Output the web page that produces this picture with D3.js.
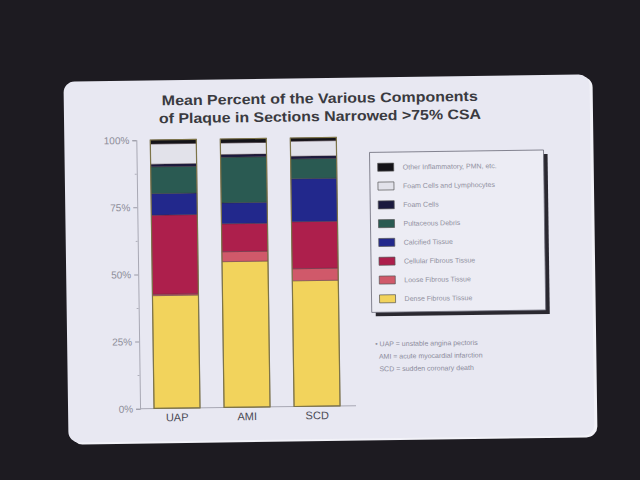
<!DOCTYPE html>
<html>
<head>
<meta charset="utf-8">
<script src="https://cdn.jsdelivr.net/npm/d3@7"></script>
<style>
html,body{margin:0;padding:0;background:#1d1b21;}
svg{display:block;}
</style>
</head>
<body>
<svg id="c" width="640" height="480"></svg>
<script>
// ---- data (percent of plaque, bottom to top of each bar) ----
const categories = ["UAP", "AMI", "SCD"];
const denseFibrous    = [42.0, 54.3, 46.8];
const looseFibrous    = [0.5, 3.7, 4.5];
const cellularFibrous = [29.5, 10.4, 17.5];
const calcified       = [8.0, 7.8, 16.0];
const pultaceous      = [10.0, 17.0, 7.4];
const foamCells       = [1.0, 1.0, 1.0];
const foamLymph       = [7.5, 4.3, 5.6];
const otherInflam     = [1.5, 1.5, 1.2];
const tickValues = [0, 25, 50, 75, 100];
const tickLabels = ["0%", "25%", "50%", "75%", "100%"];
const seriesNames = ["Dense Fibrous Tissue", "Loose Fibrous Tissue", "Cellular Fibrous Tissue",
  "Calcified Tissue", "Pultaceous Debris", "Foam Cells", "Foam Cells and Lymphocytes",
  "Other Inflammatory, PMN, etc."];
const seriesValues = [denseFibrous, looseFibrous, cellularFibrous, calcified, pultaceous,
  foamCells, foamLymph, otherInflam];
const seriesColors = ["#f2d35c", "#d0596a", "#ad1f4c", "#22288c", "#2a5a52", "#1b1a3e", "#e2e2ea", "#141318"];
const footnotes = ["UAP = unstable angina pectoris", "AMI = acute myocardial infarction", "SCD = sudden coronary death"];
const titleLines = ["Mean Percent of the Various Components", "of Plaque in Sections Narrowed >75% CSA"];

const svg = d3.select("#c");
const g = svg.append("g").attr("transform", "rotate(-0.8 329 260)");

// slide
g.append("rect").attr("x", 69).attr("y", 80).attr("width", 526).attr("height", 361)
  .attr("rx", 11).attr("fill", "#f2f2f8");
g.append("rect").attr("x", 66).attr("y", 78).attr("width", 526).attr("height", 361)
  .attr("rx", 11).attr("fill", "#e8e8f2");

// title
titleLines.forEach((t, i) => {
  g.append("text").attr("x", 322).attr("y", 103 + i * 18)
    .attr("text-anchor", "middle")
    .attr("font-family", "Liberation Sans, Arial, sans-serif")
    .attr("font-weight", "bold").attr("font-size", 14)
    .attr("fill", "#3a3a40")
    .attr("textLength", i === 0 ? 316 : 322).attr("lengthAdjust", "spacingAndGlyphs")
    .text(t);
});

// scales
const x = d3.scaleBand().domain(categories).range([140, 350]).paddingInner(0.343).paddingOuter(0.171);
const y = d3.scaleLinear().domain([0, 100]).range([406, 137.5]);

// stacked data
const rows = categories.map((c, i) => {
  const o = { cat: c };
  seriesNames.forEach((s, k) => o[s] = seriesValues[k][i]);
  return o;
});
const stack = d3.stack().keys(seriesNames)(rows);

// axis
const yAxis = d3.axisLeft(y).tickValues(tickValues).tickFormat((d, i) => tickLabels[i]).tickSize(4).tickPadding(3);
const ax = g.append("g").attr("transform", "translate(138,0)").call(yAxis);
ax.select(".domain").attr("stroke", "#a8a8b4");
ax.selectAll(".tick line").attr("stroke", "#9a9aa6");
ax.selectAll(".tick text").attr("fill", "#8c8c98").attr("font-size", 10)
  .attr("font-family", "Liberation Sans, Arial, sans-serif");
const minor = d3.axisLeft(y).tickValues([12.5, 37.5, 62.5, 87.5]).tickSize(2).tickFormat("");
const mx = g.append("g").attr("transform", "translate(138,0)").call(minor);
mx.select(".domain").remove();
mx.selectAll(".tick line").attr("stroke", "#b0b0bc");
g.append("line").attr("x1", 138).attr("x2", 354).attr("y1", y(0)).attr("y2", y(0))
  .attr("stroke", "#a8a8b4");

// bars
g.selectAll("g.layer").data(stack).join("g").attr("class", "layer")
  .attr("fill", (d, k) => seriesColors[k])
  .selectAll("rect").data(d => d).join("rect")
  .attr("x", d => x(d.data.cat))
  .attr("width", x.bandwidth())
  .attr("y", d => y(d[1]))
  .attr("height", d => y(d[0]) - y(d[1]))
  .attr("stroke", "#3a2a30").attr("stroke-width", 0.6).attr("stroke-opacity", 0.6);
// bar outlines
g.selectAll("rect.outline").data(categories).join("rect").attr("class", "outline")
  .attr("x", d => x(d)).attr("width", x.bandwidth())
  .attr("y", y(100)).attr("height", y(0) - y(100))
  .attr("fill", "none").attr("stroke", "#7d7448").attr("stroke-width", 1.2);

// category labels
g.selectAll("text.cat").data(categories).join("text").attr("class", "cat")
  .attr("x", d => x(d) + x.bandwidth() / 2).attr("y", 419)
  .attr("text-anchor", "middle")
  .attr("font-family", "Liberation Sans, Arial, sans-serif").attr("font-size", 11)
  .attr("fill", "#4a4a55").text(d => d);

// legend
const lg = g.append("g").attr("transform", "translate(371,153)");
lg.append("rect").attr("x", 4).attr("y", 4).attr("width", 174).attr("height", 160).attr("fill", "#2a2830");
lg.append("rect").attr("x", 0).attr("y", 0).attr("width", 174).attr("height", 160)
  .attr("fill", "#ececf4").attr("stroke", "#6a6a78").attr("stroke-width", 0.8);
const legendOrder = d3.range(seriesNames.length).reverse();
legendOrder.forEach((k, i) => {
  const yy = 15 + i * 18.8;
  lg.append("rect").attr("x", 8).attr("y", yy - 4).attr("width", 16).attr("height", 8)
    .attr("fill", seriesColors[k]).attr("stroke", "#555").attr("stroke-width", 0.7);
  lg.append("text").attr("x", 33).attr("y", yy + 2.5)
    .attr("font-family", "Liberation Sans, Arial, sans-serif").attr("font-size", 7)
    .attr("fill", "#9090a0").text(seriesNames[k]);
});

// footnotes
footnotes.forEach((t, i) => {
  g.append("text").attr("x", 374).attr("y", 347 + i * 12.5)
    .attr("font-family", "Liberation Sans, Arial, sans-serif").attr("font-size", 7)
    .attr("fill", "#8a8a9a").text((i === 0 ? "\u2022 " : "  ") + t)
    .attr("xml:space", "preserve");
});
</script>
</body>
</html>
